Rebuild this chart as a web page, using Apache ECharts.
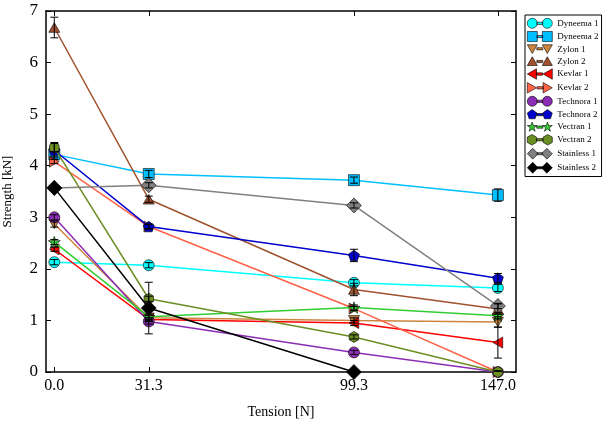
<!DOCTYPE html>
<html>
<head>
<meta charset="utf-8">
<script src="https://cdn.jsdelivr.net/npm/echarts@6/dist/echarts.min.js"></script>
<style>html,body{margin:0;padding:0;background:#fff}#c{width:604px;height:425px}</style>
</head>
<body>
<div id="c"></div>
<script>
// ---- data ----
const tension = [0.0, 31.3, 99.3, 147.0];
const tickLabels = ['0.0', '31.3', '99.3', '147.0'];
const names = ['Dyneema 1','Dyneema 2','Zylon 1','Zylon 2','Kevlar 1','Kevlar 2','Technora 1','Technora 2','Vectran 1','Vectran 2','Stainless 1','Stainless 2'];
const dyneema1   = [2.13, 2.07, 1.73, 1.63];
const dyneema2   = [4.22, 3.84, 3.72, 3.43];
const zylon1     = [2.87, 1.05, 1.00, 0.97];
const zylon2     = [6.68, 3.35, 1.60, 1.22];
const kevlar1    = [2.38, 1.02, 0.95, 0.57];
const kevlar2    = [4.08, 2.82, 1.23, 0.00];
const technora1  = [3.00, 0.98, 0.38, 0.00];
const technora2  = [4.30, 2.82, 2.26, 1.82];
const vectran1   = [2.52, 1.07, 1.25, 1.09];
const vectran2   = [4.35, 1.42, 0.68, 0.00];
const stainless1 = [3.57, 3.62, 3.23, 1.28];
const stainless2 = [3.57, 1.24, 0.00, null];
// symmetric errors
const dyneema1Err   = [0.05, 0.05, 0.06, 0.07];
const dyneema2Err   = [0.05, 0.07, 0.06, 0.12];
const zylon1Err     = [0.06, 0.05, 0.05, 0.10];
const zylon2Err     = [0.20, 0.06, 0.12, 0.10];
const kevlar1Err    = [0.04, 0.04, 0.05, 0.30];
const kevlar2Err    = [0.04, 0.04, 0.04, 0.02];
const technora1Err  = [0.05, 0.05, 0.04, 0.02];
const technora2Err  = [0.15, 0.05, 0.12, 0.09];
const vectran1Err   = [0.05, 0.05, 0.05, 0.06];
const vectran2Err   = [0.08, 0.05, 0.04, 0.02];
const stainless1Err = [0.05, 0.05, 0.05, 0.05];
const stainless2Err = [0.05, 0.50, 0.02, null];

const values = [dyneema1,dyneema2,zylon1,zylon2,kevlar1,kevlar2,technora1,technora2,vectran1,vectran2,stainless1,stainless2];
const errors = [dyneema1Err,dyneema2Err,zylon1Err,zylon2Err,kevlar1Err,kevlar2Err,technora1Err,technora2Err,vectran1Err,vectran2Err,stainless1Err,stainless2Err];
const colors = ['#00FFFF','#00BFFF','#CD853F','#A0522D','#FF0000','#FF6347','#8B2DB5','#0000CD','#32CD32','#6B8E23','#808080','#000000'];

const SHAPES = {
  square:   [[-1,-1],[1,-1],[1,1],[-1,1]],
  triDown:  [[-1,-0.8],[1,-0.8],[0,0.95]],
  triUp:    [[0,-0.95],[1,0.8],[-1,0.8]],
  triLeft:  [[-0.8,0],[0.95,-1],[0.95,1]],
  triRight: [[-0.95,-1],[0.8,0],[-0.95,1]],
  pentagon: [[0,-1],[0.951,-0.309],[0.588,0.809],[-0.588,0.809],[-0.951,-0.309]],
  star:     [[0,-1],[0.22,-0.31],[0.95,-0.31],[0.36,0.12],[0.59,0.81],[0,0.38],[-0.59,0.81],[-0.36,0.12],[-0.95,-0.31],[-0.22,-0.31]],
  hexagon:  [[0,-1],[0.866,-0.5],[0.866,0.5],[0,1],[-0.866,0.5],[-0.866,-0.5]],
  diamond:  [[0,-1],[1,0],[0,1],[-1,0]]
};
function polyPath(pts, cx, cy, r) {
  return pts.map((p, j) => (j ? 'L' : 'M') + (cx + p[0]*r).toFixed(1) + ',' + (cy + p[1]*r).toFixed(1)).join(' ') + ' Z';
}
function circlePath(cx, cy, r) {
  return `M${cx-r},${cy} A${r},${r} 0 1 0 ${cx+r},${cy} A${r},${r} 0 1 0 ${cx-r},${cy} Z`;
}
function markerSymbol(kind) {
  if (kind === 'circle') return 'circle';
  return 'path://' + polyPath(SHAPES[kind], 50, 50, 50);
}
function legendIcon(kind, rScale) {
  const r = 50 * (rScale || 1);
  const bar = 'M95,44 L155,44 L155,66 L95,66 Z';
  const a = kind === 'circle' ? circlePath(50, 55, r) : polyPath(SHAPES[kind], 50, 55, r);
  const b = kind === 'circle' ? circlePath(200, 55, r) : polyPath(SHAPES[kind], 200, 55, r);
  return 'path://' + bar + ' ' + a + ' ' + b;
}
const kinds = ['circle','square','triDown','triUp','triLeft','triRight','circle','pentagon','star','hexagon','diamond','diamond'];
const sizes = [11,11,11,11,11,11,11,11,12,11,15,15];

const FONT = 'Liberation Serif';
const series = [];
names.forEach((n, i) => {
  series.push({
    name: n, type: 'line',
    data: tension.map((x, k) => [x, values[i][k]]).filter(p => p[1] !== null),
    symbol: markerSymbol(kinds[i]), symbolSize: sizes[i], symbolKeepAspect: true,
    showAllSymbol: true,
    lineStyle: {color: colors[i], width: 1.5},
    itemStyle: {color: colors[i], borderColor: '#000', borderWidth: 0.6},
    emphasis: {disabled: true},
    z: 2 + i * 0.01,
    animation: false
  });
});
const errData = [];
names.forEach((n, i) => {
  tension.forEach((x, k) => {
    const v = values[i][k], e = errors[i][k];
    if (v !== null && e !== null) errData.push([x, v - e, v + e]);
  });
});
series.push({
  type: 'custom', name: 'err', clip: true, z: 5, silent: true, animation: false,
  data: errData,
  encode: {x: 0, y: [1, 2]},
  renderItem: function (params, api) {
    const x = api.value(0);
    const lo = api.coord([x, api.value(1)]);
    const hi = api.coord([x, api.value(2)]);
    const w = 4;
    const st = {stroke: '#000', lineWidth: 1};
    return {type: 'group', children: [
      {type: 'line', shape: {x1: lo[0], y1: lo[1], x2: hi[0], y2: hi[1]}, style: st},
      {type: 'line', shape: {x1: lo[0]-w, y1: lo[1], x2: lo[0]+w, y2: lo[1]}, style: st},
      {type: 'line', shape: {x1: hi[0]-w, y1: hi[1], x2: hi[0]+w, y2: hi[1]}, style: st}
    ]};
  }
});

const axLine = {show: true, onZero: false, lineStyle: {color: '#000', width: 1.5}};
const option = {
  animation: false,
  backgroundColor: '#fff',
  grid: {left: 46, top: 11, right: 88, bottom: 53, containLabel: false, outerBoundsMode: 'none'},
  legend: {
    orient: 'vertical', left: 525, top: 15,
    padding: [3, 3, 3, 2],
    borderColor: '#000', borderWidth: 1,
    itemWidth: 25, itemHeight: 11, itemGap: 2.64,
    itemStyle: {borderColor: '#000', borderWidth: 0.6},
    data: names.map((n, i) => ({name: n, icon: legendIcon(kinds[i], kinds[i] === 'diamond' ? 1.15 : 1)})),
    textStyle: {fontFamily: FONT, fontSize: 9, color: '#000'},
    selectedMode: false
  },
  xAxis: [{
    type: 'value', min: -2.75, max: 153,
    name: 'Tension [N]', nameLocation: 'middle', nameGap: 33,
    nameTextStyle: {fontFamily: FONT, fontSize: 14, color: '#000'},
    axisLine: axLine,
    axisTick: {inside: true, length: 5, lineStyle: {color: '#000'}, customValues: tension},
    axisLabel: {fontFamily: FONT, fontSize: 16, color: '#000', margin: 6,
      customValues: tension, formatter: v => tickLabels[tension.indexOf(v)] ?? v.toFixed(1)},
    splitLine: {show: false}
  }, {
    type: 'value', min: -2.75, max: 153, position: 'top',
    axisLine: axLine,
    axisTick: {inside: true, length: 5, lineStyle: {color: '#000'}, customValues: tension},
    axisLabel: {show: false, customValues: tension},
    splitLine: {show: false}
  }],
  yAxis: [{
    type: 'value', min: 0, max: 7, interval: 1,
    name: 'Strength [kN]', nameLocation: 'middle', nameGap: 32,
    nameTextStyle: {fontFamily: FONT, fontSize: 13, color: '#000'},
    axisLine: axLine,
    axisTick: {inside: true, length: 5, lineStyle: {color: '#000'}},
    axisLabel: {fontFamily: FONT, fontSize: 17, color: '#000', margin: 8},
    splitLine: {show: false}
  }, {
    type: 'value', min: 0, max: 7, interval: 1, position: 'right',
    axisLine: axLine,
    axisTick: {inside: true, length: 5, lineStyle: {color: '#000'}},
    axisLabel: {show: false},
    splitLine: {show: false}
  }],
  series: series
};
const chart = echarts.init(document.getElementById('c'), null, {renderer: 'canvas'});
chart.setOption(option);
</script>
</body>
</html>
